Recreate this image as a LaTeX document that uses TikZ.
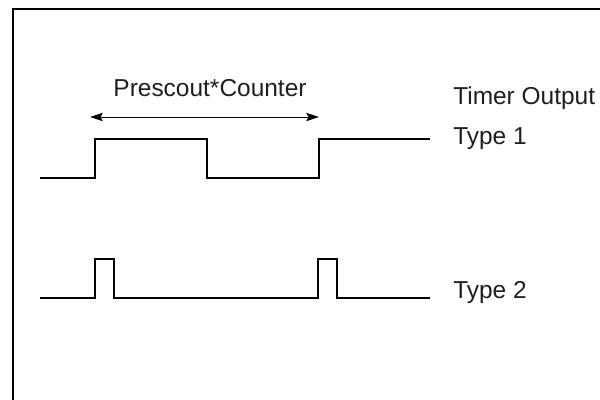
\documentclass[tikz,border=0pt]{standalone}
\usepackage{fontspec}
\setmainfont{Liberation Sans}
\usetikzlibrary{arrows.meta, positioning}

\begin{document}
\begin{tikzpicture}[x=0.025cm, y=-0.025cm,
    frame/.style={line width=1.9pt},
    wave/.style={line width=1pt, line join=miter},
    arrow/.style={{Stealth[length=3.2mm,width=2.1mm,inset=0.6mm]}-{Stealth[length=3.2mm,width=2.1mm,inset=0.6mm]}, line width=0.7pt},
    label/.style={font=\fontsize{17.4}{20}\selectfont, inner sep=0pt, text=black!88}
]
    \useasboundingbox (0,0) rectangle (600,400);
    \draw[frame] (13,402) -- (13,9) -- (602,9);

    % labels
    \node[label, anchor=base west] (out) at (453,105) {Timer Output};
    \node[label, anchor=base west] (type1) at (453,145) {Type 1};
    \node[label, anchor=base west] (type2) at (453,299) {Type 2};
    \node[label, anchor=base] (count) at (210,97) {Prescout*Counter};

    % period arrow
    \coordinate (ps) at (90,117);
    \coordinate (pe) at (319,117);
    \draw[arrow] (ps) -- (pe);

    % type 1 wave
    \draw[wave] (40,178) -- (95,178) -- (95,139) -- (207,139) -- (207,178)
        -- (319,178) -- (319,139) -- (430,139);

    % type 2 wave
    \draw[wave] (40,298) -- (95,298) -- (95,259) -- (114,259) -- (114,298)
        -- (318,298) -- (318,259) -- (337,259) -- (337,298) -- (430,298);
\end{tikzpicture}
\end{document}
